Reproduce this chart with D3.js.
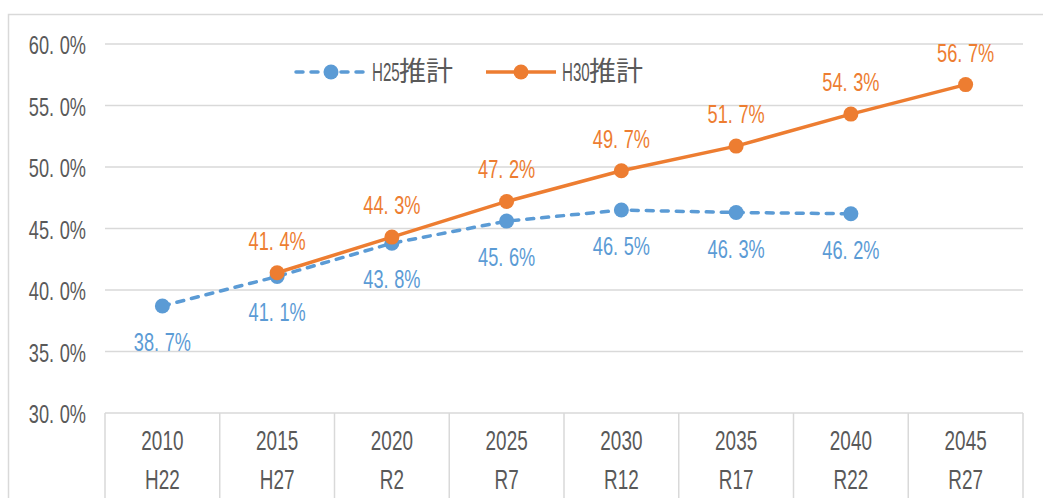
<!DOCTYPE html>
<html>
<head>
<meta charset="utf-8">
<script src="https://cdn.jsdelivr.net/npm/d3@7"></script>
<style>
  body { margin: 0; background: #fff; }
  text { font-family: "Liberation Sans", Arial, sans-serif; }
  .cjk { font-family: "Noto Sans CJK JP", sans-serif; }
</style>
</head>
<body>
<svg id="chart" width="1043" height="498"></svg>
<script>
var years = ['2010', '2015', '2020', '2025', '2030', '2035', '2040', '2045']
var eras = ['H22', 'H27', 'R2', 'R7', 'R12', 'R17', 'R22', 'R27']
var h25 = [38.7, 41.1, 43.8, 45.6, 46.5, 46.3, 46.2, null]
var h30 = [null, 41.4, 44.3, 47.2, 49.7, 51.7, 54.3, 56.7]
var yTicks = [30, 35, 40, 45, 50, 55, 60]
var seriesNames = ['H25', 'H30']
var seriesSuffix = '推計'

var blue = '#5B9BD5', orange = '#ED7D31', grid = '#D9D9D9', ink = '#595959'
var sx = 0.7
var svg = d3.select('#chart')

// frame
svg.append('rect').attr('x', 8.5).attr('y', 14.5).attr('width', 1060).attr('height', 500)
  .attr('fill', 'none').attr('stroke', grid).attr('stroke-width', 1.5)

var x = d3.scaleBand().domain(years).range([105, 1023])
var y = d3.scaleLinear().domain([30, 60]).range([413, 44])
var cx = function(i) { return x(years[i]) + x.bandwidth() / 2 }

// narrow text: drawn at origin, then squeezed horizontally
function label(sel, anchor, size, color) {
  return sel.append('text')
    .attr('text-anchor', anchor).attr('font-size', size).attr('fill', color)
}
function pct(t, v) {
  var s = d3.format('.1f')(v).split('.')
  t.append('tspan').text(s[0] + '.')
  t.append('tspan').attr('dx', 8).text(s[1] + '%')
}
function place(xx, yy, k) { return 'translate(' + xx + ',' + yy + ') scale(' + (k || sx) + ',1)' }

// gridlines
svg.selectAll('.grid').data(yTicks).enter().append('line')
  .attr('x1', 105).attr('x2', 1023)
  .attr('y1', function(d) { return y(d) }).attr('y2', function(d) { return y(d) })
  .attr('stroke', grid).attr('stroke-width', 1.5)

yTicks.forEach(function(d) {
  var t = label(svg, 'end', 26, ink).attr('transform', place(86, y(d) + 10))
  pct(t, d)
})

// category table
var edges = years.map(function(d) { return x(d) }).concat([1023])
svg.selectAll('.vline').data(edges).enter().append('line')
  .attr('x1', function(d) { return d }).attr('x2', function(d) { return d })
  .attr('y1', 413).attr('y2', 498).attr('stroke', grid).attr('stroke-width', 1.5)

years.forEach(function(d, i) {
  label(svg, 'middle', 27, ink).attr('transform', place(cx(i), 450)).text(d)
  label(svg, 'middle', 27, ink).attr('transform', place(cx(i), 489)).text(eras[i])
})

function drawSeries(vals, color, dash, below) {
  var pts = vals.map(function(v, i) { return { v: v, i: i } }).filter(function(d) { return d.v != null })
  var line = d3.line().x(function(d) { return cx(d.i) }).y(function(d) { return y(d.v) })
  svg.append('path').datum(pts).attr('d', line)
    .attr('fill', 'none').attr('stroke', color).attr('stroke-width', 3.5)
    .attr('stroke-linecap', dash ? 'round' : 'butt')
    .attr('stroke-dasharray', dash)
  svg.selectAll(null).data(pts).enter().append('circle')
    .attr('cx', function(d) { return cx(d.i) }).attr('cy', function(d) { return y(d.v) })
    .attr('r', 7.5).attr('fill', color)
  pts.forEach(function(d) {
    var t = label(svg, 'middle', 26, color)
      .attr('transform', place(cx(d.i), y(d.v) + (below ? 45 : -23)))
    pct(t, d.v)
  })
}

drawSeries(h25, blue, '7,8', true)
drawSeries(h30, orange, null, false)

// legend
var legend = [
  { name: seriesNames[0], color: blue, dash: '7,8', x0: 296 },
  { name: seriesNames[1], color: orange, dash: null, x0: 486 }
]
legend.forEach(function(d) {
  svg.append('line').attr('x1', d.x0).attr('x2', d.x0 + 70)
    .attr('y1', 72).attr('y2', 72).attr('stroke', d.color)
    .attr('stroke-width', 3.5).attr('stroke-dasharray', d.dash)
    .attr('stroke-linecap', d.dash ? 'round' : 'butt')
  svg.append('circle').attr('cx', d.x0 + 35).attr('cy', 72).attr('r', 7.5).attr('fill', d.color)
  label(svg, 'start', 26, ink).attr('transform', place(d.x0 + 76, 81, 0.58)).text(d.name)
  svg.append('text').attr('class', 'cjk').attr('x', d.x0 + 103).attr('y', 81)
    .attr('font-size', 27).attr('fill', ink).text(seriesSuffix)
})
</script>
</body>
</html>
